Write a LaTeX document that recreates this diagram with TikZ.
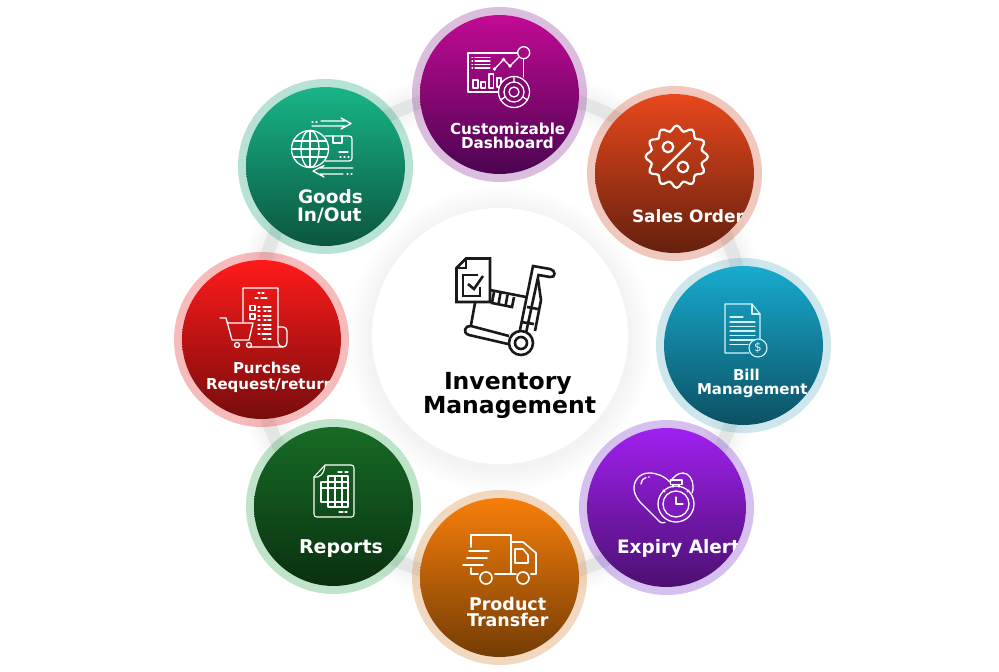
\documentclass[tikz,border=0pt]{standalone}
\usepackage{fontspec}
\setmainfont{DejaVu Sans}
\definecolor{ringgray}{HTML}{E4E6E6}
\definecolor{dashT}{HTML}{C20A94}\definecolor{dashB}{HTML}{4A0450}\definecolor{dashH}{HTML}{8A2A90}
\definecolor{goodT}{HTML}{18B587}\definecolor{goodB}{HTML}{0C5540}\definecolor{goodH}{HTML}{18A07A}
\definecolor{saleT}{HTML}{E8481C}\definecolor{saleB}{HTML}{64200E}\definecolor{saleH}{HTML}{D04A28}
\definecolor{billT}{HTML}{18ABCE}\definecolor{billB}{HTML}{0C5064}\definecolor{billH}{HTML}{60B0C4}
\definecolor{purcT}{HTML}{FF1A1A}\definecolor{purcB}{HTML}{780C0C}\definecolor{purcH}{HTML}{E82020}
\definecolor{expiT}{HTML}{A020F0}\definecolor{expiB}{HTML}{4C1070}\definecolor{expiH}{HTML}{7A30D0}
\definecolor{prodT}{HTML}{F77F0A}\definecolor{prodB}{HTML}{743C05}\definecolor{prodH}{HTML}{D88030}
\definecolor{repoT}{HTML}{176B25}\definecolor{repoB}{HTML}{0A3010}\definecolor{repoH}{HTML}{30A850}
\definecolor{billline}{HTML}{D0F4FA}
\tikzset{
  halo/.style={circle,draw=#1,draw opacity=.3,line width=8pt,minimum size=167pt,inner sep=0,outer sep=0},
  disc/.style={circle,minimum size=159pt,inner sep=0,outer sep=0},
  lab/.style={anchor=base west,inner sep=0,outer sep=0,font=\bfseries,text=white},
  ico/.style={draw=white,line width=1.3pt,line join=round,line cap=round},
  blk/.style={draw=black!90,line width=2.6pt,line join=miter}
}
\newcommand{\mybadge}[4]{% name x y colourprefix
  \node[halo=#4H] (#1h) at (#2,#3) {};
  \node[disc,shade,top color=#4T,bottom color=#4B] (#1) at (#2,#3) {};
}
\newcommand{\fs}[1]{\fontsize{#1}{#1}\selectfont}
\begin{document}
\begin{tikzpicture}[x=1pt,y=-1pt]
\useasboundingbox (0,0) rectangle (999,672);
\fill[white] (0,0) rectangle (999,672);
% soft shadows
\foreach \w in {44,38,32,26,20}
  \draw[black,opacity=.006,line width=\w pt] (500,336) circle (247);
\foreach \r in {152,148,144,140,136,132}
  \fill[black,opacity=.009] (500,339) circle (\r);
\draw[ringgray,line width=13pt] (500,336) circle (247);
\node[circle,fill=white,minimum size=256pt,inner sep=0] (core) at (500,336) {};
% badges
\mybadge{dash}{499.5}{94.5}{dash}
\mybadge{good}{325.5}{166.5}{good}
\mybadge{sale}{674.5}{173.5}{sale}
\mybadge{bill}{743.5}{345.5}{bill}
\mybadge{purc}{261.5}{339.5}{purc}
\mybadge{expi}{666.5}{507.5}{expi}
\mybadge{prod}{499.5}{577.5}{prod}
\mybadge{repo}{333.5}{506.5}{repo}
% labels, cut off by their discs
\begin{scope}\clip (499.5,94.5) circle (79.5);
\node[lab] (l1a) at (450,134) {\fs{15.2}Customizable};
\node[lab] (l1b) at (461,148) {\fs{15.2}Dashboard};
\end{scope}
\node[lab] (l2a) at (298,203) {\fs{18.5}Goods};
\node[lab] (l2b) at (297,221) {\fs{18.5}In/Out};
\begin{scope}\clip (674.5,173.5) circle (79.5);
\node[lab] (l3) at (632,222) {\fs{17}Sales Order};
\end{scope}
\begin{scope}\clip (743.5,345.5) circle (79.5);
\node[lab] (l4a) at (733,380) {\fs{15}Bill};
\node[lab] (l4b) at (697,394) {\fs{15}Management};
\end{scope}
\begin{scope}\clip (261.5,339.5) circle (79.5);
\node[lab] (l5a) at (233,373) {\fs{15}Purchse};
\node[lab] (l5b) at (206,389) {\fs{15}Request/return};
\end{scope}
\begin{scope}\clip (666.5,507.5) circle (79.5);
\node[lab] (l6) at (617,553) {\fs{18.5}Expiry Alert};
\end{scope}
\node[lab] (l7a) at (469,610) {\fs{17.5}Product};
\node[lab] (l7b) at (467,626) {\fs{17.5}Transfer};
\node[lab] (l8) at (299,553) {\fs{19}Reports};
\node[lab,text=black] (c1) at (444,389) {\fs{23.5}Inventory};
\node[lab,text=black] (c2) at (423,413) {\fs{23.5}Management};
% ---------- dashboard icon
\begin{scope}[ico]
\draw (523.5,58.5) -- (523.5,77);
\draw (517.5,53) -- (468,53) -- (468,92) -- (499,92);
\draw (523.7,52.7) circle (6);
\foreach \y in {57.5,61,64.5,68}{\draw (472,\y) -- (472.6,\y); \draw (475,\y) -- (490,\y);}
\draw (495,68.5) -- (503.5,59.5) -- (510,66) -- (519,57);
\foreach \p in {(494.5,69),(503.5,59.5),(510,66)} \fill[white] \p circle (1.9);
\draw (473,80) rectangle (478,88);
\draw (481,82) rectangle (485.5,88);
\draw (489,74) rectangle (493.5,88);
\draw (497,78) rectangle (501,87);
\fill[dashT!45!dashB] (514,92) circle (15.5);
\draw (514,92) circle (15.5) circle (10) circle (5);
\draw (514,77) -- (514,82) (500.5,100) -- (505,97) (527.5,100) -- (523,97);
\end{scope}
% ---------- goods icon
\begin{scope}[ico]
\draw (312,122) -- (313,122) (316,122) -- (317,122);
\draw (321,121) -- (345,121) -- (341,118) -- (351,123.5) -- (341,129) -- (345,126) -- (312,126);
\draw (325,136) -- (349,136) .. controls (351,136) and (352,137) .. (352,139) -- (352,158) .. controls (352,160) and (351,161) .. (349,161) -- (325,161);
\draw (333,136) -- (333,143) -- (342,143) -- (342,136);
\draw (339,152) -- (348,152);
\draw (340,157) -- (341,157) (344,157) -- (345,157) (348,157) -- (349,157);
\draw (310,149) circle (18.5);
\draw (310,149) ellipse (9 and 18.5);
\draw (310,130.5) -- (310,167.5) (293.5,141) -- (326.5,141) (291.5,149) -- (328.5,149) (293.5,157) -- (326.5,157);
\draw (353,168) -- (320,168) -- (324,165.5) -- (313,171) -- (324,177) -- (320,174) -- (343,174);
\draw (347,174) -- (348,174) (351,174) -- (352,174);
\end{scope}
% ---------- sales icon
\begin{scope}[ico,line width=2.2pt]
\draw plot[smooth cycle,samples=72,domain=0:355] ({676.7+(28.5+2.7*cos(12*\x))*cos(\x)},{156.7+(28.5+2.7*cos(12*\x))*sin(\x)});
\draw (668,147) circle (5.3);
\draw (683,167) circle (5.3);
\draw (690,143) -- (663,170);
\end{scope}
% ---------- bill icon
\begin{scope}[ico,draw=billline,line width=1.1pt]
\draw (749,353) -- (725,353) -- (725,304) -- (752,304) -- (760,314) -- (760,339);
\draw (752,304) -- (752,314) -- (760,314);
\draw (730,317) -- (743,317);
\foreach \y in {322,326.5,331,335.5,340} \draw (730,\y) -- (755,\y);
\draw (730,344.5) -- (748,344.5);
\draw (758,348) circle (9);
\end{scope}
\node[inner sep=0,text=billline] (dollar) at (758,348) {\fs{12}\$};
% ---------- purchase icon
\begin{scope}[ico]
\draw (243,322) -- (243,288) -- (278,288) -- (278,342) .. controls (278,345) and (280,347) .. (283,347) -- (250,347);
\draw (283,347) .. controls (285.5,347) and (287,345) .. (287,342) -- (287,331) .. controls (287,328.5) and (285,327) .. (283,327) -- (278,327);
\draw (250,305.5) rectangle (255,310.5) (250,314) rectangle (255,319);
\draw (220,318) -- (226,318) -- (232,340) -- (249,340) -- (253,323) -- (227,323);
\draw (237,345) circle (2.5) (249,345) circle (2.5);
\foreach \xa/\xb/\y in {258/260/293,262/264/293,255/258/298,261/267/298,258/260/307,263/271/307,258/260/311,264/266/311,268/271/311,258/260/316,263/271/316,258/260/320,264/266/320,268/271/320,258/260/325,262/271/325,258/260/329,264/271/329,258/260/334,262/271/334,263/266/339,268/271/339}
  \draw (\xa,\y) -- (\xb,\y);
\end{scope}
% ---------- expiry icon
\begin{scope}[ico]
\draw (670,482) .. controls (664,476) and (657,473) .. (649,473) .. controls (640,473) and (634,480) .. (634,488) .. controls (634,493) and (636,497) .. (640,502) -- (660,522) .. controls (661,523) and (663,523) .. (665,522.5);
\draw (670,482) .. controls (674,476) and (678,473) .. (683,473) .. controls (689,473) and (693,480) .. (693,486) .. controls (693,489) and (693,491) .. (692,493);
\draw (641,484) .. controls (641,481) and (643,478) .. (646,477.5);
\fill[white] (649,477) circle (.9);
\fill[expiT!60!expiB] (676,504) circle (18);
\draw (676,504) circle (18) circle (13);
\draw (670.5,480) rectangle (682,484.5);
\draw (673,485) -- (673,487) (679,485) -- (679,487);
\draw (663,490) -- (665,492) (689,490) -- (687,492);
\draw (676,497) -- (676,504) -- (683,504);
\end{scope}
% ---------- truck icon
\begin{scope}[ico,line width=1.6pt]
\draw (471,547) -- (471,535) -- (511,535) -- (511,574) -- (495,574);
\draw (511,542) -- (523,542) -- (536,553) -- (536,574) -- (531,574);
\draw (511,574) -- (516,574);
\draw (515,549) -- (523,549) -- (528,555) -- (528,563) -- (515,563) -- cycle;
\draw (486,578) circle (6) (523,578) circle (6);
\draw (469,551) -- (489,551) (467,558) -- (487,558) (463,565) -- (483,565);
\draw (471,568) -- (471,574) -- (478,574);
\end{scope}
% ---------- reports icon
\begin{scope}[ico,line width=1.1pt]
\draw (325,465) -- (351,465) .. controls (353,465) and (354,466) .. (354,468) -- (354,514) .. controls (354,516) and (353,517) .. (351,517) -- (317,517) .. controls (315,517) and (314,516) .. (314,514) -- (314,477) -- (325,465) -- cycle;
\draw (314,477) .. controls (319,478) and (324,475) .. (325,465);
\draw (328,476) -- (348,476) -- (348,507) -- (328,507) -- (328,476);
\draw (321,482) -- (348,482) (321,482) -- (321,502) -- (348,502) (321,488) -- (348,488);
\draw (335,476) -- (335,507) (342,476) -- (342,507);
\draw (338,472) -- (342,472) (345,472) -- (348,472) (339,512) -- (343,512) (345,512) -- (347,512);
\end{scope}
% ---------- central icon
\begin{scope}[blk]
\draw (466,258.5) -- (490,258.5) -- (490,302) -- (456.5,302) -- (456.5,268) -- cycle;
\draw (466,258.5) -- (466,268) -- (456.5,268);
\draw (478,275) -- (463,275) -- (463,296) -- (480,296) -- (480,287);
\draw (468,284) -- (474,289) -- (483,276);
\draw (475,303) -- (471,325);
\draw (490,290) -- (526,297);
\draw (494,292) -- (492,303) -- (512,307) -- (514,297);
\draw (500.5,293) -- (498.5,304) (507.5,295) -- (505.5,306);
\draw (520,330) -- (533,266) -- (550,269) .. controls (556,270) and (556,278) .. (550,277) -- (538.5,275) -- (526,333);
\draw (538,279) -- (541,300) -- (535,331);
\draw (527,307) -- (538,309) (521,322) -- (534,324);
\draw (508,344) -- (469,335) .. controls (462,333) and (465,325) .. (471,326) -- (509,336);
\fill[white] (521,343) circle (13);
\draw (521,343) circle (12) circle (6);
\end{scope}
\end{tikzpicture}
\end{document}
